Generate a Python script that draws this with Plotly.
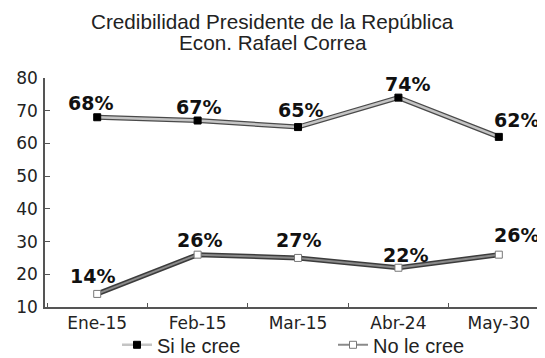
import plotly.graph_objects as go

categories = ["Ene-15", "Feb-15", "Mar-15", "Abr-24", "May-30"]
si_values = [68, 67, 65, 74, 62]
no_values = [14, 26, 25, 22, 26]
si_labels = ["68%", "67%", "65%", "74%", "62%"]
no_labels = ["14%", "26%", "27%", "22%", "26%"]
y_ticks = [10, 20, 30, 40, 50, 60, 70, 80]
title_lines = ["Credibilidad Presidente de la República", "Econ. Rafael Correa"]

FONT = "DejaVu Sans"
TFONT = "Liberation Sans"
fig = go.Figure()

# label offsets (pixels) relative to each marker
si_dx = [-7, 1, 2, 9, 18]
si_dy = [14, 14, 17, 14, 17]
no_dx = [-5, 2, 0, 7, 18]
no_dy = [18, 15, 18, 13, 20]

# Si le cree: dark outline + light core
fig.add_trace(go.Scatter(x=categories, y=si_values, mode="lines",
                         line=dict(color="#4a4a4a", width=5),
                         showlegend=False, hoverinfo="skip", legendgroup="si"))
fig.add_trace(go.Scatter(x=categories, y=si_values, mode="lines+markers",
                         name="Si le cree", legendgroup="si", cliponaxis=False,
                         line=dict(color="#c4c4c4", width=2.5),
                         marker=dict(symbol="square", size=7, color="#000000",
                                     line=dict(color="#000000", width=1))))

# No le cree: dark outline + mid core
fig.add_trace(go.Scatter(x=categories, y=no_values, mode="lines",
                         line=dict(color="#3c3c3c", width=5),
                         showlegend=False, hoverinfo="skip", legendgroup="no"))
fig.add_trace(go.Scatter(x=categories, y=no_values, mode="lines+markers",
                         name="No le cree", legendgroup="no", cliponaxis=False,
                         line=dict(color="#8a8a8a", width=2),
                         marker=dict(symbol="square", size=7, color="#ffffff",
                                     line=dict(color="#777777", width=1))))

for vals, labs, dxs, dys in [(si_values, si_labels, si_dx, si_dy),
                             (no_values, no_labels, no_dx, no_dy)]:
    for c, v, t, dx, dy in zip(categories, vals, labs, dxs, dys):
        fig.add_annotation(x=c, y=v, text=t, showarrow=False, xshift=dx, yshift=dy,
                           xanchor="center", yanchor="middle",
                           font=dict(family=FONT, size=19, color="#111111", weight="bold"))

for txt, yy in zip(title_lines, [1.245, 1.157]):
    fig.add_annotation(text=txt, xref="paper", yref="paper", x=0.455, y=yy,
                       xanchor="center", yanchor="middle", showarrow=False,
                       font=dict(family=TFONT, size=20.7, color="#222222"))

fig.update_layout(
    width=537, height=350,
    margin=dict(l=37, r=0, t=70, b=51, autoexpand=False),
    paper_bgcolor="white", plot_bgcolor="white",
    font=dict(family=FONT, color="#222222"),
    xaxis=dict(type="category", range=[-0.52, 4.46], showline=True, linecolor="#555555",
               linewidth=1.5, ticks="inside", ticklen=4, tickcolor="#555555",
               tickson="boundaries", showgrid=False, zeroline=False,
               tickfont=dict(family=FONT, size=17, color="#222222")),
    yaxis=dict(range=[10, 80], tickvals=y_ticks, showline=True, linecolor="#555555",
               linewidth=1.5, ticks="inside", ticklen=5, tickcolor="#555555",
               showgrid=False, zeroline=False, ticklabelstandoff=2,
               tickfont=dict(family=FONT, size=17, color="#222222")),
    legend=dict(orientation="h", x=0.144, xanchor="left", y=-0.165, yanchor="middle",
                entrywidth=171, entrywidthmode="pixels", bgcolor="rgba(0,0,0,0)",
                font=dict(family=TFONT, size=20, color="#222222")),
    showlegend=True,
)

fig.write_html("out.html")
